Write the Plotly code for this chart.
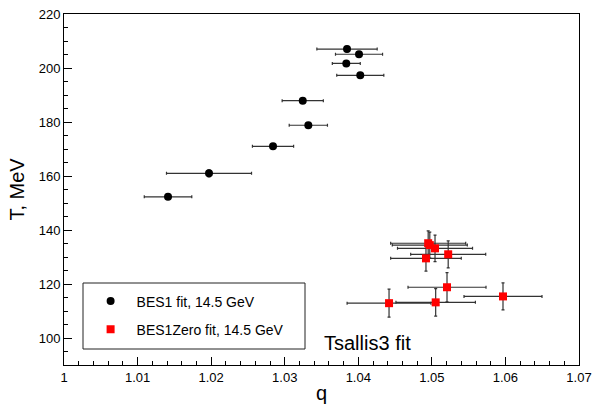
import plotly.graph_objects as go

# BES1 fit, 14.5 GeV
q_bes1 = [1.01414, 1.01971, 1.02841, 1.03321, 1.03245, 1.04027, 1.03837, 1.04010, 1.03847]
T_bes1 = [152.3, 161.0, 171.0, 178.8, 187.9, 197.3, 201.7, 205.1, 207.0]
qerr_bes1 = [0.00323, 0.00578, 0.00280, 0.00260, 0.00280, 0.00320, 0.00190, 0.00320, 0.00410]
Terr_bes1 = [0.8, 1.3, 0.8, 0.8, 0.8, 0.8, 0.8, 0.8, 1.0]

# BES1Zero fit, 14.5 GeV
q_zero = [1.04418, 1.05052, 1.05206, 1.05967, 1.04950, 1.04972, 1.05043, 1.05222, 1.04920]
T_zero = [112.9, 113.2, 118.8, 115.4, 135.1, 134.4, 133.2, 131.0, 129.5]
qerr_zero = [0.0057, 0.0054, 0.0053, 0.0053, 0.0051, 0.0051, 0.0051, 0.0051, 0.0048]
Terr_zero = [5.2, 5.1, 5.4, 5.0, 4.6, 4.8, 4.9, 5.0, 4.7]

x_ticks = [1.0, 1.01, 1.02, 1.03, 1.04, 1.05, 1.06, 1.07]
x_labels = ["1", "1.01", "1.02", "1.03", "1.04", "1.05", "1.06", "1.07"]
y_ticks = [100, 120, 140, 160, 180, 200, 220]

FONT = "Liberation Sans, Arial, Helvetica, sans-serif"

fig = go.Figure()
fig.add_trace(go.Scatter(
    x=q_bes1, y=T_bes1, mode="markers", name="BES1 fit, 14.5 GeV",
    marker=dict(symbol="circle", size=8, color="black"),
    error_x=dict(type="data", array=qerr_bes1, color="#333333", thickness=1.2, width=1.5),
    error_y=dict(type="data", array=Terr_bes1, color="#333333", thickness=1.2, width=1.5),
    legendgroup="a",
))
fig.add_trace(go.Scatter(
    x=q_zero, y=T_zero, mode="markers", name="BES1Zero fit, 14.5 GeV",
    marker=dict(symbol="square", size=8, color="red"),
    error_x=dict(type="data", array=qerr_zero, color="#333333", thickness=1.2, width=1.5),
    error_y=dict(type="data", array=Terr_zero, color="#333333", thickness=1.2, width=1.5),
    legendgroup="b",
))

fig.update_layout(
    width=594, height=404,
    margin=dict(l=64, r=15, t=14, b=39, autoexpand=False),
    paper_bgcolor="white", plot_bgcolor="white",
    font=dict(family=FONT, color="black", size=13),
    showlegend=True,
    legend=dict(
        x=0.04, y=0.2265, xanchor="left", yanchor="top",
        bgcolor="rgba(0,0,0,0)", borderwidth=0,
        font=dict(size=14, family=FONT),
        tracegroupgap=7, itemwidth=42,
    ),
)

fig.add_shape(type="rect", xref="paper", yref="paper",
              x0=(83 - 64) / 515, x1=(305 - 64) / 515,
              y0=(365 - 349) / 351, y1=(365 - 283) / 351,
              line=dict(color="#222222", width=1), fillcolor="rgba(0,0,0,0)", layer="above")

fig.update_xaxes(
    range=[1.0, 1.07], tickvals=x_ticks, ticktext=x_labels, automargin=False,
    ticks="inside", ticklen=8, tickcolor="black", tickwidth=1,
    minor=dict(dtick=0.002, tick0=1.0, ticks="inside", ticklen=4, tickcolor="black", tickwidth=1),
    showline=True, linecolor="black", linewidth=1, mirror=True,
    showgrid=False, zeroline=False,
    tickfont=dict(size=13, family=FONT),
    title=dict(text="q", font=dict(size=20, family=FONT), standoff=2),
)
fig.update_yaxes(
    range=[90, 220], tickvals=y_ticks, automargin=False,
    ticks="inside", ticklen=8, tickcolor="black", tickwidth=1,
    minor=dict(dtick=5, tick0=90, ticks="inside", ticklen=4, tickcolor="black", tickwidth=1),
    showline=True, linecolor="black", linewidth=1, mirror=True,
    showgrid=False, zeroline=False,
    tickfont=dict(size=13, family=FONT),
    title=dict(text="T, MeV", font=dict(size=20, family=FONT), standoff=8),
)

fig.add_annotation(x=1.04128, y=98.1, xref="x", yref="y", text="Tsallis3 fit",
                   showarrow=False, font=dict(size=20, family=FONT, color="black"))

fig.write_html("out.html")
